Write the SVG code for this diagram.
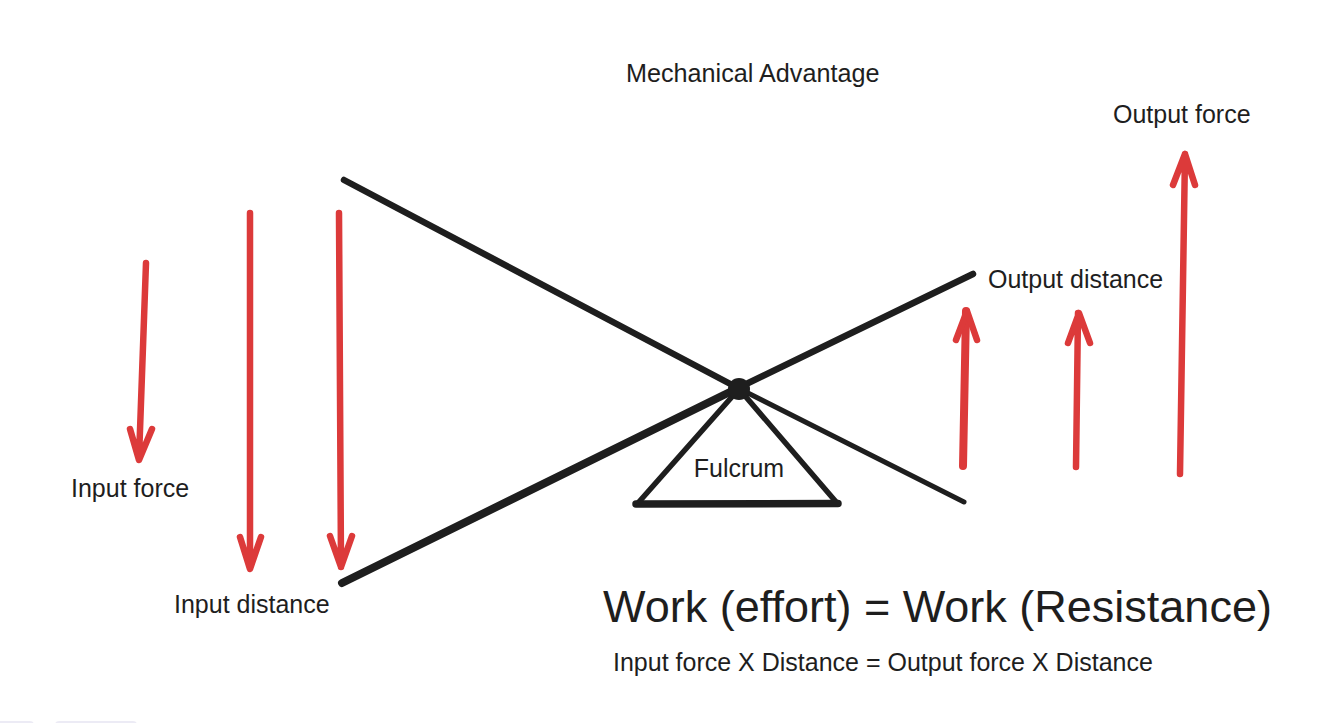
<svg xmlns="http://www.w3.org/2000/svg" width="1334" height="723" viewBox="0 0 1334 723">
<style>
text{font-family:"Liberation Sans",Arial,sans-serif;fill:#1e1e1e;font-size:25px}
.k{stroke:#1e1e1e;fill:none;stroke-linecap:round;stroke-linejoin:round}
.r{stroke:#dc3a3a;fill:none;stroke-width:6.500;stroke-linecap:round;stroke-linejoin:round}
</style>
<rect width="1334" height="723" fill="#fff"/>
<rect x="-10" y="721" width="44" height="10" rx="4" fill="#ecebf5"/>
<rect x="55" y="721" width="82" height="10" rx="4" fill="#ecebf5"/>
<g id="connectors">
<path class="k" stroke-width="6.500" d="M344 180L738 388"/>
<path class="k" stroke-width="5" d="M738 388L964 502"/>
<path class="k" stroke-width="8" d="M342 583L738 388"/>
<path class="k" stroke-width="6.500" d="M738 388L973 274"/>
<path class="r" d="M146 263L139 458M130 429L139 460L152 429"/>
<path class="r" d="M250 213L250 568M240 537L250 569L261 537"/>
<path class="r" d="M339 213L341 567M330 536L341 567L352 536"/>
<path class="r" stroke-width="8" style="stroke-width:8" d="M963 466L966 311"/>
<path class="r" d="M956 340L967 311L977 340"/>
<path class="r" d="M1076 467L1078 313M1068 343L1079 313L1090 343"/>
<path class="r" d="M1180 474L1185 154M1173 185L1185 154L1195 185"/>
</g>
<g id="fulcrum">
<path class="k" stroke-width="5.500" d="M738 390L638 503M740 390L837 503"/>
<path class="k" stroke-width="7.500" d="M636 504L838 503.500"/>
<circle cx="739" cy="389" r="11" fill="#1e1e1e"/>
<text x="739" y="476.500" text-anchor="middle">Fulcrum</text>
</g>
<g id="title"><text x="626" y="81.500" style="font-size:25.200px">Mechanical Advantage</text></g>
<g id="output-force"><text x="1113" y="122.500">Output force</text></g>
<g id="output-distance"><text x="988" y="287.500">Output distance</text></g>
<g id="input-force"><text x="71" y="496.500">Input force</text></g>
<g id="input-distance"><text x="174" y="612.500">Input distance</text></g>
<g id="equation"><text x="603" y="622" style="font-size:45px">Work (effort) = Work (Resistance)</text></g>
<g id="formula"><text x="613" y="670.500">Input force X Distance = Output force X Distance</text></g>
</svg>
